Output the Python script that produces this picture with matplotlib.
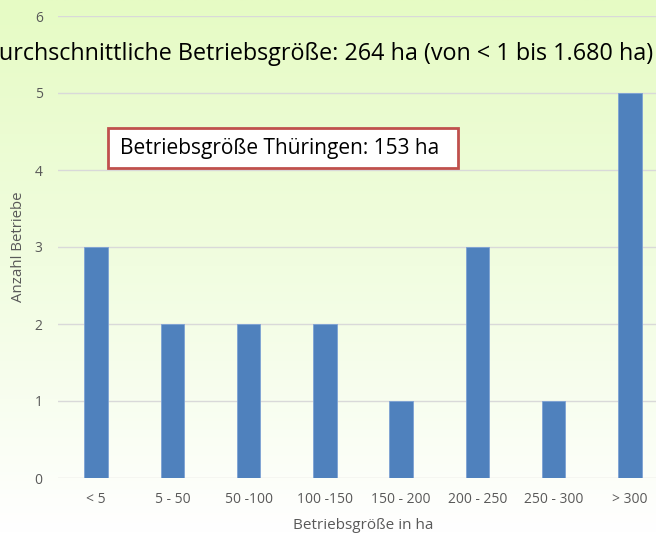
import matplotlib
matplotlib.use("Agg")
import matplotlib.pyplot as plt
import numpy as np
from matplotlib.colors import LinearSegmentedColormap
from matplotlib.patches import Rectangle

categories = ["< 5", "5 - 50", "50 -100", "100 -150", "150 - 200", "200 - 250", "250 - 300", "> 300"]
counts = [3, 2, 2, 2, 1, 3, 1, 5]

BAR = "#4f81bd"
TICK = "#595959"
GRID = "#d9d9d9"
BOX_EDGE = "#c0504d"

plt.rcParams["font.family"] = ["Open Sans", "DejaVu Sans"]

W, H = 656, 533
fig = plt.figure(figsize=(W / 100, H / 100), dpi=100)

# background gradient: light green top -> white bottom
bg = fig.add_axes([0, 0, 1, 1], zorder=0)
grad = np.linspace(1, 0, 256).reshape(-1, 1)
cmap = LinearSegmentedColormap.from_list("bg", ["#ffffff", "#f1fde0", "#e6fbc4"])
bg.imshow(grad, aspect="auto", cmap=cmap, extent=[0, 1, 0, 1], origin="upper")
bg.axis("off")

ax = fig.add_axes([58 / W, 55 / H, 610 / W, 462 / H], zorder=1)
ax.patch.set_alpha(0)
x = np.arange(len(categories))
ax.bar(x, counts, width=0.31, color=BAR, edgecolor="#7da2d4", linewidth=0.6, zorder=3)
ax.set_xlim(-0.5, len(categories) - 0.5)
ax.set_ylim(0, 6)
ax.set_yticks(range(7))
ax.set_xticks(x)
ax.set_xticklabels(categories)
ax.tick_params(axis="both", length=0, colors=TICK, labelsize=10)
ax.tick_params(axis="x", pad=10)
ax.tick_params(axis="y", pad=11)
ax.grid(axis="y", color=GRID, linewidth=1, zorder=0)
for s in ax.spines.values():
    s.set_visible(False)
ax.set_xlabel("Betriebsgröße in ha", color=TICK, fontsize=11, labelpad=8)
ax.set_ylabel("Anzahl Betriebe", color=TICK, fontsize=10.8)
ax.yaxis.set_label_coords(-0.052, 0.5)

# title, cut off at the left edge as in the original slide
fig.text(318 / W, 1 - 54 / H, "Durchschnittliche Betriebsgröße: 264 ha (von < 1 bis 1.680 ha)",
         ha="center", va="center", fontsize=16.8, color="#000000", zorder=5)

# info box
fig.patches.append(Rectangle((108 / W, 1 - 168 / H), 350 / W, 40 / H, transform=fig.transFigure,
                             facecolor="white", edgecolor=BOX_EDGE, linewidth=2, zorder=4))
fig.text(280 / W, 1 - 148 / H, "Betriebsgröße Thüringen: 153 ha",
         ha="center", va="center", fontsize=15, color="#000000", zorder=5)

fig.savefig("out.png", dpi=100)
